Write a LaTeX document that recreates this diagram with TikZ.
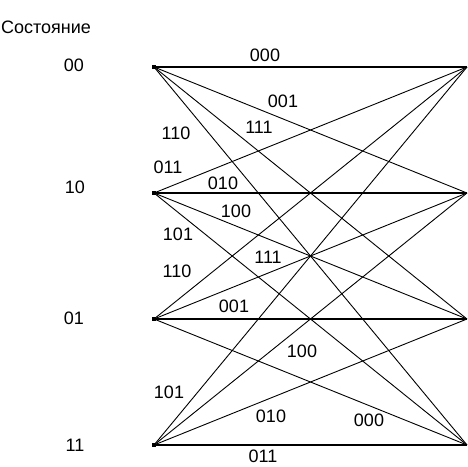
\documentclass[tikz,border=0pt]{standalone}
\usepackage{fontspec}
\setmainfont{Liberation Sans}

\begin{document}
\begin{tikzpicture}[
    x=1pt,
    y=-1pt,
    dot/.style={
        rectangle,
        fill=black,
        inner sep=0pt,
        minimum size=4.5pt
    },
    edge/.style={
        line width=0.9pt
    },
    level/.style={
        line width=1.6pt
    },
    lbl/.style={
        inner sep=0pt,
        font=\fontsize{18}{20}\selectfont
    }
]
\useasboundingbox (0,0) rectangle (468,466);

\node[lbl] (title) at (46,27) {Состояние};

% states on the left
\node[dot] (l00) at (154,67) {};
\node[dot] (l10) at (154,193) {};
\node[dot] (l01) at (154,319) {};
\node[dot] (l11) at (154,445) {};

\node[lbl] (s00) at (74,65) {00};
\node[lbl] (s10) at (75,187) {10};
\node[lbl] (s01) at (74,318) {01};
\node[lbl] (s11) at (75,445) {11};

% states on the right
\coordinate (r00) at (467,67);
\coordinate (r10) at (467,193);
\coordinate (r01) at (467,319);
\coordinate (r11) at (467,445);

\foreach \a in {00,10,01,11}
    \foreach \b in {00,10,01,11}
        \draw[edge] (l\a.center) -- (r\b);

\foreach \a in {00,10,01,11}
    \draw[level] (l\a.center) -- (r\a);

% outputs
\node[lbl] (o1) at (265,55) {000};
\node[lbl] (o2) at (283,101) {001};
\node[lbl] (o3) at (176,133) {110};
\node[lbl] (o4) at (259,127) {111};
\node[lbl] (o5) at (168,167) {011};
\node[lbl] (o6) at (223,183) {010};
\node[lbl] (o7) at (236,211) {100};
\node[lbl] (o8) at (178,234) {101};
\node[lbl] (o9) at (268,257) {111};
\node[lbl] (o10) at (177,271) {110};
\node[lbl] (o11) at (234,306) {001};
\node[lbl] (o12) at (302,351) {100};
\node[lbl] (o13) at (169,392) {101};
\node[lbl] (o14) at (271,416) {010};
\node[lbl] (o15) at (369,420) {000};
\node[lbl] (o16) at (263,456) {011};

\end{tikzpicture}
\end{document}
